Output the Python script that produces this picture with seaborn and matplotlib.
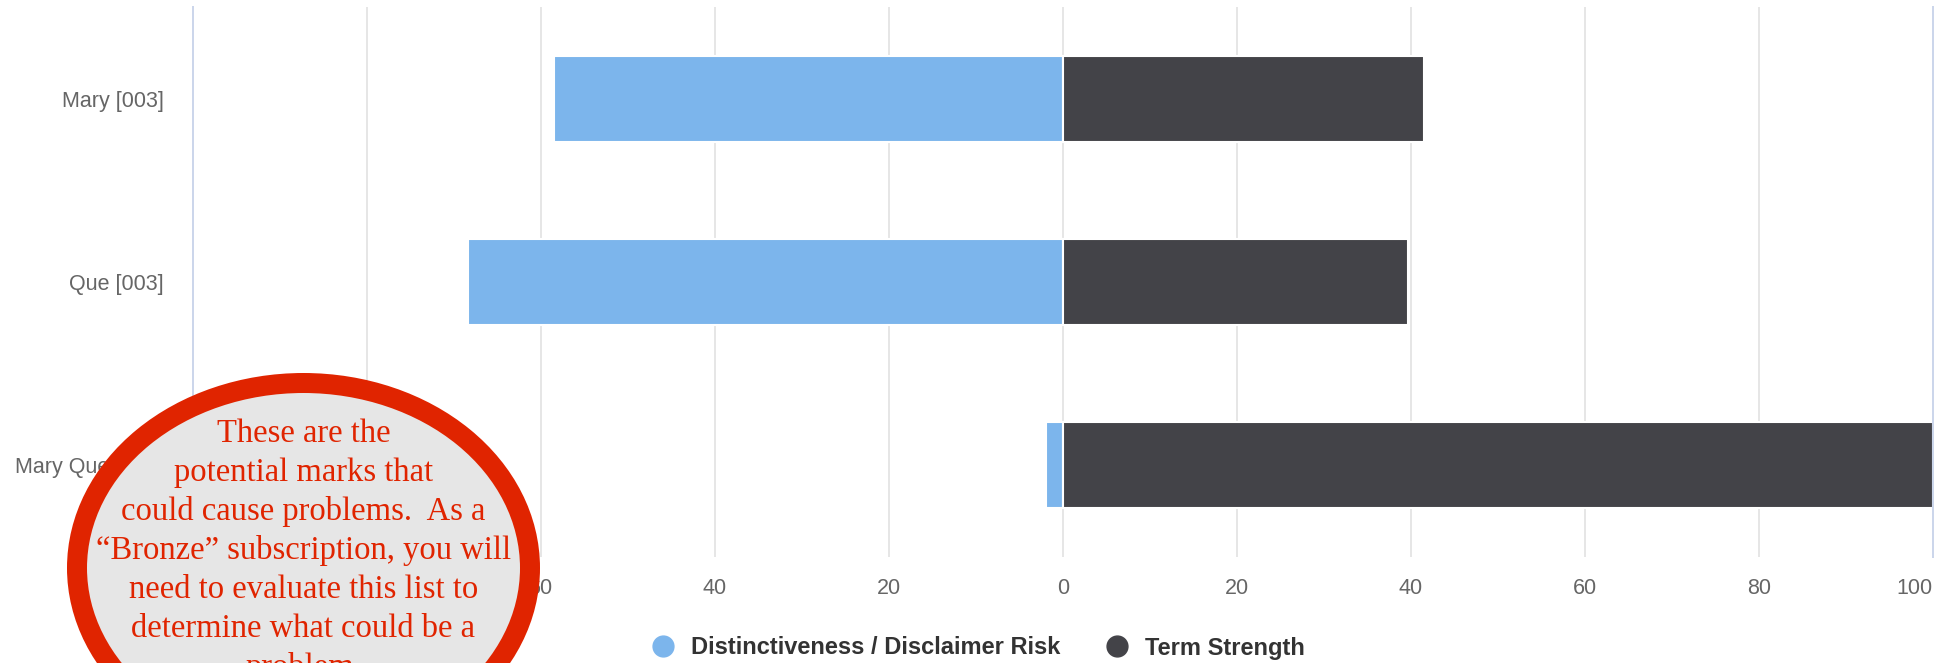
import matplotlib
matplotlib.use("Agg")
import matplotlib.pyplot as plt
import matplotlib.patches as mpatches
from matplotlib.lines import Line2D
from matplotlib.ticker import FixedLocator, FuncFormatter
import seaborn as sns
import pandas as pd

# ---- data ----
categories = ["Mary [003]", "Que [003]", "Mary Que [003]"]
series_names = ["Distinctiveness / Disclaimer Risk", "Term Strength"]
risk_values = [-58.5, -68.4, -1.9]
strength_values = [41.5, 39.6, 100.0]
x_ticks = [-100, -80, -60, -40, -20, 0, 20, 40, 60, 80, 100]
colors = ["#7cb5ec", "#434348"]
note_lines = [
    "These are the",
    "potential marks that",
    "could cause problems.  As a",
    "\u201cBronze\u201d subscription, you will",
    "need to evaluate this list to",
    "determine what could be a",
    "problem.",
]

df = pd.DataFrame({
    "category": categories * 2,
    "series": [series_names[0]] * len(categories) + [series_names[1]] * len(categories),
    "value": risk_values + strength_values,
})

sns.set_theme(style="white")
plt.rcParams["font.family"] = ["Liberation Sans", "DejaVu Sans"]

W, H = 1956, 663
fig = plt.figure(figsize=(W / 100, H / 100), dpi=100)
ax = fig.add_axes([193 / W, 1 - 557 / H, (1933 - 193) / W, (557 - 7) / H])

sns.barplot(data=df, y="category", x="value", hue="series", order=categories,
            hue_order=series_names, palette=colors, dodge=False, width=0.47,
            orient="h", edgecolor="white", linewidth=1.5, saturation=1,
            legend=False, ax=ax)

ax.set_xlim(-100, 100)
ax.xaxis.set_major_locator(FixedLocator(x_ticks))
ax.xaxis.set_major_formatter(FuncFormatter(lambda v, p: f"{abs(v):.0f}"))
ax.set_axisbelow(True)
ax.grid(axis="x", color="#e6e6e6", linewidth=1.44)
ax.grid(axis="y", visible=False)
ax.set_xlabel("")
ax.set_ylabel("")
for s in ["top", "bottom"]:
    ax.spines[s].set_visible(False)
for s in ["left", "right"]:
    ax.spines[s].set_visible(True)
    ax.spines[s].set_color("#ccd6eb")
    ax.spines[s].set_linewidth(1.44)
ax.tick_params(axis="x", length=0, pad=15, labelsize=15.5, labelcolor="#666666")
ax.tick_params(axis="y", length=0, pad=21, labelsize=15.5, labelcolor="#666666")
lbls = ax.get_xticklabels()
lbls[-1].set_horizontalalignment("right")
lbls[-1].set_x(100)

# legend
handles = [Line2D([0], [0], marker="o", linestyle="", markersize=15,
                  markerfacecolor=c, markeredgecolor=c) for c in colors]
leg = fig.legend(handles, series_names, loc="center", bbox_to_anchor=(0.5, 1 - 648 / H),
                 ncol=2, frameon=False, handletextpad=0.7, columnspacing=1.9,
                 handlelength=1.0, prop={"weight": "bold", "size": 17})
for t in leg.get_texts():
    t.set_color("#333333")

# red callout ellipse
cx, cy = 303.5, 568
ell = mpatches.Ellipse((cx / W, 1 - cy / H), 2 * 226.5 / W, 2 * 185 / H,
                       transform=fig.transFigure, facecolor="#e6e6e6",
                       edgecolor="#e02400", linewidth=14.4, zorder=10)
fig.patches.append(ell)
for i, line in enumerate(note_lines):
    yb = 442 + 39 * i
    fig.text(cx / W, 1 - yb / H, line, ha="center", va="baseline",
             family=["Liberation Serif", "DejaVu Serif"], fontsize=23.5,
             color="#e02400", zorder=11)

fig.savefig("out.png", dpi=100)
